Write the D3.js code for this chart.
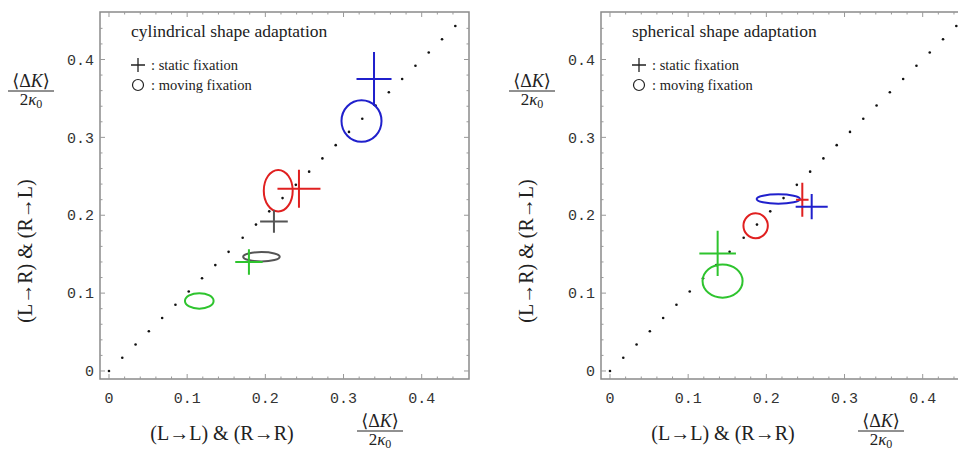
<!DOCTYPE html>
<html>
<head>
<meta charset="utf-8">
<script src="https://cdn.jsdelivr.net/npm/d3@7"></script>
<style>
  body { margin: 0; background: #fff; overflow: hidden; }
  svg { display: block; }
  .serif { font-family: "Liberation Serif", "DejaVu Serif", serif; fill: #222; }
  .ticklabel { font-family: "Liberation Mono", "DejaVu Sans Mono", monospace; font-size: 15px; fill: #333; }
</style>
</head>
<body>
<div id="chart"></div>
<script>
// diagonal reference points (y = x)
const diagDots = [0, 0.017, 0.034, 0.051, 0.068, 0.085, 0.102, 0.119, 0.136, 0.153, 0.171,
  0.188, 0.205, 0.222, 0.239, 0.256, 0.273, 0.290, 0.307, 0.324, 0.341, 0.358, 0.375,
  0.392, 0.409, 0.426, 0.443];

const majorTicks = [0, 0.1, 0.2, 0.3, 0.4];
const minorTicks = [0.02, 0.04, 0.06, 0.08, 0.12, 0.14, 0.16, 0.18, 0.22, 0.24, 0.26, 0.28,
  0.32, 0.34, 0.36, 0.38, 0.42, 0.44];
const tickLabels = ["0", "0.1", "0.2", "0.3", "0.4"];

const panelTitles = ["cylindrical shape adaptation", "spherical shape adaptation"];

// static fixation (crosses): centre, half width, half height
const cylCrosses = [
  {x: 0.339, y: 0.375, hw: 0.0224, hh: 0.0347, c: "blue"},
  {x: 0.243, y: 0.234, hw: 0.0275, hh: 0.0245, c: "red"},
  {x: 0.211, y: 0.192, hw: 0.0177, hh: 0.0145, c: "grey"},
  {x: 0.179, y: 0.140, hw: 0.0175, hh: 0.0164, c: "green"}
];
// moving fixation (ellipses): centre, radii
const cylEllipses = [
  {x: 0.323, y: 0.321, rx: 0.0256, ry: 0.0267, c: "blue"},
  {x: 0.2165, y: 0.2315, rx: 0.0185, ry: 0.0267, c: "red"},
  {x: 0.195, y: 0.1467, rx: 0.0234, ry: 0.006, c: "grey"},
  {x: 0.1155, y: 0.0899, rx: 0.0183, ry: 0.010, c: "green"}
];

const sphCrosses = [
  {x: 0.1377, y: 0.151, hw: 0.0234, hh: 0.029, c: "green"},
  {x: 0.246, y: 0.2199, hw: 0.008, hh: 0.0218, c: "red"},
  {x: 0.258, y: 0.211, hw: 0.0205, hh: 0.0162, c: "blue"}
];
const sphEllipses = [
  {x: 0.144, y: 0.1155, rx: 0.0256, ry: 0.0214, c: "green"},
  {x: 0.1863, y: 0.1865, rx: 0.0156, ry: 0.016, c: "red"},
  {x: 0.2153, y: 0.2208, rx: 0.0277, ry: 0.006, c: "blue"}
];

const colors = {blue: "#2020cc", red: "#e02020", green: "#2ec42e", grey: "#555555"};

const width = 958, height = 450;
const svg = d3.select("#chart").append("svg")
  .attr("width", width)
  .attr("height", height);

const frameW = 369, frameH = 367;
const x = d3.scaleLinear().domain([-0.0115, 0.4605]).range([0, frameW]);
const y = d3.scaleLinear().domain([-0.0103, 0.461]).range([frameH, 0]);

function fraction(g, cx, cy) {
  // <ΔK> over 2κ0
  let t = g.append("text").attr("class", "serif").attr("x", cx).attr("y", cy)
    .attr("text-anchor", "middle").style("font-size", "18px");
  t.append("tspan").text("\u27E8\u0394");
  t.append("tspan").style("font-style", "italic").text("K");
  t.append("tspan").text("\u27E9");
  g.append("line").attr("x1", cx - 23).attr("x2", cx + 23)
    .attr("y1", cy + 4).attr("y2", cy + 4).attr("stroke", "#222").attr("stroke-width", 1);
  let b = g.append("text").attr("class", "serif").attr("x", cx).attr("y", cy + 18)
    .attr("text-anchor", "middle").style("font-size", "17px");
  b.append("tspan").text("2");
  b.append("tspan").style("font-style", "italic").text("\u03BA");
  b.append("tspan").attr("dy", 3).style("font-size", "12px").text("0");
}

function drawPanel(offsetX, title, crosses, ellipses) {
  let root = svg.append("g").attr("transform", `translate(${offsetX}, 0)`);

  // axis titles and fractions
  root.append("text").attr("class", "serif")
    .attr("transform", `translate(32, 251) rotate(-90)`)
    .attr("text-anchor", "middle").style("font-size", "20px")
    .text("(L\u2192R) & (R\u2192L)");
  fraction(root, 31, 87);
  root.append("text").attr("class", "serif")
    .attr("x", 222).attr("y", 440)
    .attr("text-anchor", "middle").style("font-size", "20px")
    .text("(L\u2192L) & (R\u2192R)");
  fraction(root, 380, 427);

  let g = root.append("g").attr("transform", "translate(100, 12)");

  // frame
  g.append("rect").attr("width", frameW).attr("height", frameH)
    .attr("fill", "none").attr("stroke", "#8a8a8a").attr("stroke-width", 1.5);

  // ticks on all four sides, pointing in
  let tickData = majorTicks.map(v => ({v: v, len: 5}))
    .concat(minorTicks.map(v => ({v: v, len: 2.5})));
  g.selectAll(".xtick").data(tickData).enter().append("path")
    .attr("d", d => `M${x(d.v)},${frameH}v${-d.len}M${x(d.v)},0v${d.len}`)
    .attr("stroke", "#999").attr("stroke-width", 1);
  g.selectAll(".ytick").data(tickData).enter().append("path")
    .attr("d", d => `M0,${y(d.v)}h${d.len}M${frameW},${y(d.v)}h${-d.len}`)
    .attr("stroke", "#999").attr("stroke-width", 1);

  g.selectAll(".xlab").data(majorTicks).enter().append("text")
    .attr("class", "ticklabel")
    .attr("x", d => x(d)).attr("y", frameH + 24)
    .attr("text-anchor", "middle")
    .text((d, i) => tickLabels[i]);
  g.selectAll(".ylab").data(majorTicks).enter().append("text")
    .attr("class", "ticklabel")
    .attr("x", -6).attr("y", d => y(d)).attr("dy", "0.35em")
    .attr("text-anchor", "end")
    .text((d, i) => tickLabels[i]);

  // title and legend
  g.append("text").attr("class", "serif").attr("x", 31).attr("y", 25)
    .style("font-size", "17.5px").text(title);
  g.append("path").attr("d", "M31,53h14M38,46v14").attr("stroke", "#222").attr("stroke-width", 1.3);
  g.append("text").attr("class", "serif").attr("x", 51).attr("y", 58)
    .style("font-size", "14.5px").text(": static fixation");
  g.append("circle").attr("cx", 38).attr("cy", 73).attr("r", 5.5)
    .attr("fill", "none").attr("stroke", "#222").attr("stroke-width", 1.2);
  g.append("text").attr("class", "serif").attr("x", 51).attr("y", 78)
    .style("font-size", "14.5px").text(": moving fixation");

  // diagonal dots
  g.selectAll(".dot").data(diagDots).enter().append("circle")
    .attr("cx", d => x(d)).attr("cy", d => y(d)).attr("r", 1.3).attr("fill", "#111");

  // moving fixation ellipses
  g.selectAll(".ell").data(ellipses).enter().append("ellipse")
    .attr("cx", d => x(d.x)).attr("cy", d => y(d.y))
    .attr("rx", d => x(d.rx) - x(0)).attr("ry", d => y(0) - y(d.ry))
    .attr("fill", "none").attr("stroke", d => colors[d.c]).attr("stroke-width", 2);

  // static fixation crosses
  g.selectAll(".cross").data(crosses).enter().append("path")
    .attr("d", d => `M${x(d.x - d.hw)},${y(d.y)}H${x(d.x + d.hw)}` +
      `M${x(d.x)},${y(d.y + d.hh)}V${y(d.y - d.hh)}`)
    .attr("fill", "none").attr("stroke", d => colors[d.c]).attr("stroke-width", 2);
}

drawPanel(0, panelTitles[0], cylCrosses, cylEllipses);
drawPanel(501, panelTitles[1], sphCrosses, sphEllipses);
</script>
</body>
</html>
